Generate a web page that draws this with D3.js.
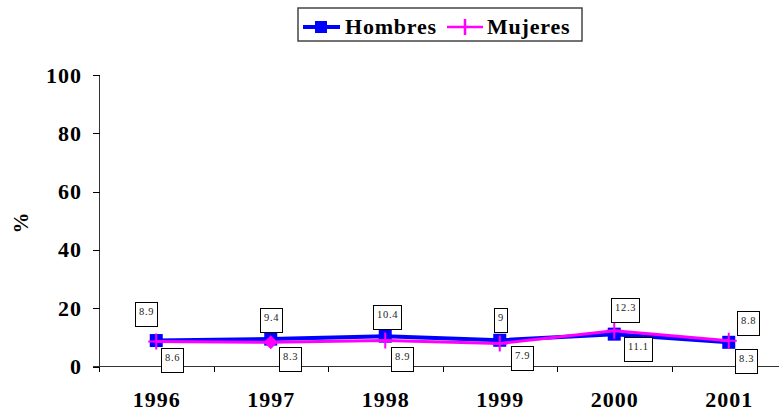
<!DOCTYPE html>
<html>
<head>
<meta charset="utf-8">
<script src="https://cdn.jsdelivr.net/npm/d3@7"></script>
<style>
	body { margin: 0; background: white; }
	svg { display: block; }
	text { font-family: 'Liberation Serif', 'Times New Roman', serif; }
</style>
</head>
<body>
<div id="chart"></div>
<script>

// values
var years = ['1996', '1997', '1998', '1999', '2000', '2001'];
var hombres = [8.9, 9.4, 10.4, 9, 11.1, 8.3];
var mujeres = [8.6, 8.3, 8.9, 7.9, 12.3, 8.8];
var yTicks = [0, 20, 40, 60, 80, 100];

// where each data-label box sits, relative to its point (box top-left)
var hombresLabelNudge = [[-21, -39], [-11, -31], [-12, -31], [-6, -32], [10, 3], [6, 7]];
var mujeresLabelNudge = [[5, 7], [8, 5], [6, 6], [11, 3], [-3, -33], [8, -30]];

var blue = '#0000ff';
var pink = '#ff00ff';

var width = 779, height = 412;

var svg = d3.select('#chart')
	.append('svg')
		.attr('width', width)
		.attr('height', height);

var x = d3.scaleBand().domain(years).range([99, 786]).paddingInner(0).paddingOuter(0);
var y = d3.scaleLinear().domain([0, 100]).range([366.5, 75]);

function cx(d, i) { return x(years[i]) + x.bandwidth() / 2; }


function appendText(svgInput, textX, textY, fontSize, anchor, spacing, textInput) {

	return svgInput.append('text')
			.attr('x', textX)
			.attr('y', textY)
			.attr('text-anchor', anchor)
			.style('font-size', fontSize)
			.style('font-weight', 'bold')
			.style('letter-spacing', spacing)
			.style('fill', 'black')
			.text(textInput);
};


// y axis
var yAxis = svg.append('g').attr('shape-rendering', 'crispEdges');

yAxis.append('line')
		.attr('x1', 99.5).attr('x2', 99.5)
		.attr('y1', y(100)).attr('y2', y(0))
		.style('stroke', '#333').style('stroke-width', 1);

yAxis.selectAll('.ytick')
	.data(yTicks)
	.enter().append('line')
		.attr('class', 'ytick')
		.attr('x1', 93).attr('x2', 99.5)
		.attr('y1', function(d) { return Math.round(y(d)) + 0.5; })
		.attr('y2', function(d) { return Math.round(y(d)) + 0.5; })
		.style('stroke', 'black');

yAxis.selectAll('.ylabel')
	.data(yTicks)
	.enter().append('text')
		.attr('class', 'ylabel')
		.attr('x', 82)
		.attr('y', function(d) { return y(d) + 7.5; })
		.attr('text-anchor', 'end')
		.style('font-size', '22px')
		.style('font-weight', 'bold')
		.style('letter-spacing', '1px')
		.text(function(d) { return d; });

appendText(svg, 0, 0, '21px', 'middle', '0px', '%')
	.attr('transform', 'translate(28,223) rotate(-90)');


// x axis
var xAxis = svg.append('g').attr('shape-rendering', 'crispEdges');

xAxis.append('line')
		.attr('x1', 93).attr('x2', 786)
		.attr('y1', 366.5).attr('y2', 366.5)
		.style('stroke', '#333');

xAxis.selectAll('.xtick')
	.data(years.concat(['end']))
	.enter().append('line')
		.attr('class', 'xtick')
		.attr('x1', function(d, i) { return Math.round(99 + i * x.bandwidth()) + 0.5; })
		.attr('x2', function(d, i) { return Math.round(99 + i * x.bandwidth()) + 0.5; })
		.attr('y1', 366.5).attr('y2', 372)
		.style('stroke', 'black');

xAxis.selectAll('.xlabel')
	.data(years)
	.enter().append('text')
		.attr('class', 'xlabel')
		.attr('x', function(d) { return x(d) + x.bandwidth() / 2 + 0.5; })
		.attr('y', 407)
		.attr('text-anchor', 'middle')
		.style('font-size', '22px')
		.style('font-weight', 'bold')
		.style('letter-spacing', '1px')
		.text(function(d) { return d; });


// series
var line = d3.line()
	.x(cx)
	.y(function(d) { return y(d); });

svg.append('path')
		.datum(hombres)
		.attr('d', line)
		.style('fill', 'none')
		.style('stroke', blue)
		.style('stroke-width', 4)
		.style('stroke-linejoin', 'round');

svg.selectAll('.hmark')
	.data(hombres)
	.enter().append('rect')
		.attr('class', 'hmark')
		.attr('x', function(d, i) { return cx(d, i) - 6.5; })
		.attr('y', function(d) { return y(d) - 6.5; })
		.attr('width', 13)
		.attr('height', 13)
		.style('fill', blue);

svg.append('path')
		.datum(mujeres)
		.attr('d', line)
		.style('fill', 'none')
		.style('stroke', pink)
		.style('stroke-width', 3)
		.style('stroke-linejoin', 'round');

var mMarks = svg.selectAll('.mmark')
	.data(mujeres)
	.enter().append('g')
		.attr('class', 'mmark')
		.attr('transform', function(d, i) { return 'translate(' + cx(d, i) + ',' + y(d) + ')'; });

mMarks.filter(function(d, i) { return years[i] != '1997'; })
	.append('path')
		.attr('d', 'M0,-8V8M-8,0H8')
		.style('stroke', pink)
		.style('stroke-width', 2);

// that one point was drawn as a diamond in the original
mMarks.filter(function(d, i) { return years[i] == '1997'; })
	.append('path')
		.attr('d', 'M0,-7L7,0L0,7L-7,0Z')
		.style('fill', pink);


// data labels
function appendLabels(values, nudge) {

	values.forEach(function(v, i) {
		var g = svg.append('g')
				.attr('transform', 'translate(' + Math.round(cx(v, i) + nudge[i][0]) + ',' + Math.round(y(v) + nudge[i][1]) + ')');
		var box = g.append('rect')
				.attr('x', 0.5).attr('y', 0.5)
				.attr('height', 24)
				.style('fill', 'white')
				.style('stroke', 'black')
				.style('stroke-width', 1)
				.attr('shape-rendering', 'crispEdges');
		var t = g.append('text')
				.attr('x', 4)
				.attr('y', 13)
				.style('font-size', '10.5px')
				.style('letter-spacing', '0.7px')
				.style('fill', '#222')
				.text(String(v));
		box.attr('width', Math.round(t.node().getComputedTextLength()) + 7);
	});
};

appendLabels(hombres, hombresLabelNudge);
appendLabels(mujeres, mujeresLabelNudge);


// legend
var legend = svg.append('g');

legend.append('rect')
		.attr('x', 298).attr('y', 8)
		.attr('width', 284).attr('height', 33)
		.style('fill', 'white')
		.style('stroke', '#444')
		.style('stroke-width', 1.5);

legend.append('line')
		.attr('x1', 303).attr('x2', 340)
		.attr('y1', 27).attr('y2', 27)
		.style('stroke', blue).style('stroke-width', 4);

legend.append('rect')
		.attr('x', 315).attr('y', 21)
		.attr('width', 12).attr('height', 12)
		.style('fill', blue);

appendText(legend, 345, 34, '22px', 'start', '0.8px', 'Hombres');

legend.append('path')
		.attr('d', 'M447,27H483M465,19V35')
		.style('stroke', pink).style('stroke-width', 2.5);

appendText(legend, 487, 34, '22px', 'start', '0.8px', 'Mujeres');

</script>
</body>
</html>
